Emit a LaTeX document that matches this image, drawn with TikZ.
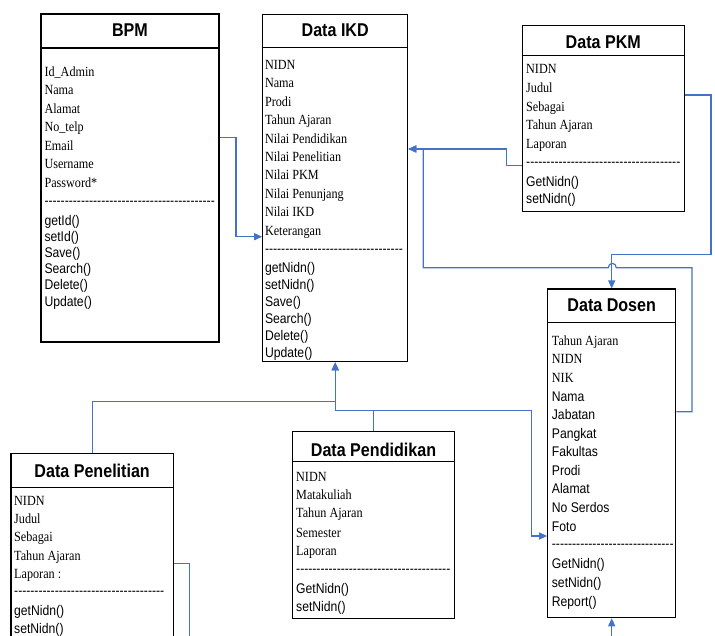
\documentclass[tikz,border=0pt]{standalone}
\usepackage{fontspec}
\newfontfamily\tnr[FakeStretch=0.87]{Liberation Serif}
\newfontfamily\ari[FakeStretch=0.87]{Liberation Sans}
\usetikzlibrary{arrows.meta,fit}
\definecolor{blue1}{HTML}{4472C4}
\newcommand\dashrow[1]{\ifnum#1>0 \mbox{-}\expandafter\dashrow\expandafter{\the\numexpr#1-1\relax}\fi}
\newcommand\rows[4]{\foreach \yy/\ltext [count=\k] in {#4}{\node[#2] (#1\k) at (#3,\yy) {\ltext};}}
\tikzset{
  umlbox/.style={draw, line width=1.1pt, inner sep=0pt},
  ttl/.style={font=\ari\bfseries\fontsize{18.5}{20}\selectfont, anchor=base, inner sep=0pt},
  attr/.style={font=\tnr\fontsize{14}{16}\selectfont, anchor=base west, inner sep=0pt},
  meth/.style={font=\ari\fontsize{14}{16}\selectfont, anchor=base west, inner sep=0pt},
  conn/.style={draw=blue1, line width=1.2pt},
  arr/.style={-{Triangle[length=8pt,width=7pt]}}
}
\begin{document}
\begin{tikzpicture}[x=1pt,y=-1pt]
\useasboundingbox (0,0) rectangle (715,635);
% ---------------- boxes
\node[umlbox, fit={(41,14) (219,342)}] (bpm) {};
\node[umlbox, fit={(262.7,14.3) (407.7,361.7)}] (ikd) {};
\node[umlbox, fit={(522.3,25.7) (684.3,211.7)}] (pkm) {};
\node[umlbox, fit={(547.7,289) (675.7,617.7)}] (dosen) {};
\node[umlbox, fit={(11,453.3) (173.3,650)}] (pen) {};
\node[umlbox, fit={(292.7,431.7) (454.3,618.3)}] (pend) {};
% title separators
\draw[line width=1.1pt] (bpm.west |- 0,48) -- (bpm.east |- 0,48);
\draw[line width=1.1pt] (ikd.west |- 0,47.7) -- (ikd.east |- 0,47.7);
\draw[line width=1.1pt] (pkm.west |- 0,55.7) -- (pkm.east |- 0,55.7);
\draw[line width=1.1pt] (dosen.west |- 0,322.3) -- (dosen.east |- 0,322.3);
\draw[line width=1.1pt] (pen.west |- 0,487.3) -- (pen.east |- 0,487.3);
\draw[line width=1.1pt] (pend.west |- 0,461.7) -- (pend.east |- 0,461.7);
% titles
\node[ttl] (bpmt) at (bpm.north |- 0,36) {BPM};
\node[ttl] (ikdt) at (ikd.north |- 0,36.7) {Data IKD};
\node[ttl] (pkmt) at (pkm.north |- 0,48.5) {Data PKM};
\node[ttl] (dosent) at (dosen.north |- 0,311.5) {Data Dosen};
\node[ttl] (pent) at (pen.north |- 0,477) {Data Penelitian};
\node[ttl] (pendt) at (pend.north |- 0,456) {Data Pendidikan};
% ---------------- BPM
\rows{bpma}{attr}{44.3}{76.2/Id\_Admin, 94.7/Nama, 113.2/Alamat, 131.7/No\_telp, 150.2/Email, 168.7/Username, 187.2/Password*}
\node[meth] (bpmd) at (44.3,205.8) {\dashrow{42}};
\rows{bpmm}{meth}{44.3}{225.5/getId(), 241.6/setId(), 257.7/Save(), 273.8/Search(), 289.9/Delete(), 306.0/Update()}
% ---------------- Data IKD
\rows{ikda}{attr}{264.8}{69.5/NIDN, 87.9/Nama, 106.3/Prodi, 124.7/Tahun Ajaran, 143.1/Nilai Pendidikan, 161.5/Nilai Penelitian, 179.9/Nilai PKM, 198.3/Nilai Penunjang, 216.7/Nilai IKD, 235.1/Keterangan}
\node[meth] (ikdd) at (264.8,253.5) {\dashrow{34}};
\rows{ikdm}{meth}{264.8}{272.8/getNidn(), 289.8/setNidn(), 306.8/Save(), 323.8/Search(), 340.8/Delete(), 357.6/Update()}
% ---------------- Data PKM
\rows{pkma}{attr}{526}{73.8/NIDN, 92.5/Judul, 111.2/Sebagai, 129.9/Tahun Ajaran, 148.6/Laporan}
\node[meth] (pkmd) at (526,166.8) {\dashrow{38}};
\rows{pkmm}{meth}{526}{186.2/GetNidn(), 203.5/setNidn()}
% ---------------- Data Dosen
\rows{dosena}{attr}{551.7}{345.5/Tahun Ajaran, 363.8/NIDN, 382.8/NIK}
\rows{dosenb}{meth}{551.7}{401.2/Nama, 419.6/Jabatan, 438.2/Pangkat, 456.8/Fakultas, 475.3/Prodi, 493.9/Alamat, 512.5/No Serdos, 531.1/Foto}
\node[meth] (dosend) at (551.7,548.5) {\dashrow{30}};
\rows{dosenm}{meth}{551.7}{568.8/GetNidn(), 587.2/setNidn(), 606.2/Report()}
% ---------------- Data Penelitian
\rows{pena}{attr}{14}{505.5/NIDN, 523.5/Judul, 541.8/Sebagai, 560.2/Tahun Ajaran, 578.8/Laporan :}
\node[meth] (pend2) at (14,595.8) {\dashrow{37}};
\rows{penm}{meth}{14}{615.5/getNidn(), 633.8/setNidn()}
% ---------------- Data Pendidikan
\rows{penda}{attr}{296}{481.2/NIDN, 499.5/Matakuliah, 517.8/Tahun Ajaran, 537.2/Semester, 555.5/Laporan}
\node[meth] (pendd) at (296,573.5) {\dashrow{38}};
\rows{pendm}{meth}{296}{593.5/GetNidn(), 611.2/setNidn()}
% ---------------- connectors
\coordinate (penend) at (189.3,640);
\coordinate (dosenin) at (611.7,640);
\draw[conn,arr] (bpm.east |- 0,137.7) -- (236,137.7) -- (236,236.7) -- (ikd.west |- 0,236.7);
\draw[conn,arr] (pkm.west |- 0,165.7) -- (506.7,165.7) -- (506.7,149) -- (ikd.east |- 0,149);
\draw[conn,arr] (dosen.east |- 0,411.7) -- (692,411.7) -- (692,267.7) -- (616.3,267.7)
   .. controls (616.3,262) and (608.3,262) .. (608.3,267.7) -- (423.3,267.7) -- (423.3,149) -- (ikd.east |- 0,149);
\draw[conn,arr] (pkm.east |- 0,95) -- (711,95) -- (711,254.3) -- (dosen.north |- 0,254.3) -- (dosen.north);
\draw[conn,arr] (pen.north) -- (pen.north |- 0,401.7) -- (ikd.south |- 0,401.7) -- (ikd.south);
\draw[conn,arr] (pend.north) -- (pend.north |- 0,410.7) -- (ikd.south |- 0,410.7) -- (ikd.south);
\draw[conn,arr] (ikd.south |- 0,410.7) -- (531.7,410.7) -- (531.7,536) -- (dosen.west |- 0,536);
\draw[conn] (pen.east |- 0,563.3) -- (189.3,563.3) -- (penend);
\draw[conn,arr] (dosenin) -- (dosen.south);
\end{tikzpicture}
\end{document}
